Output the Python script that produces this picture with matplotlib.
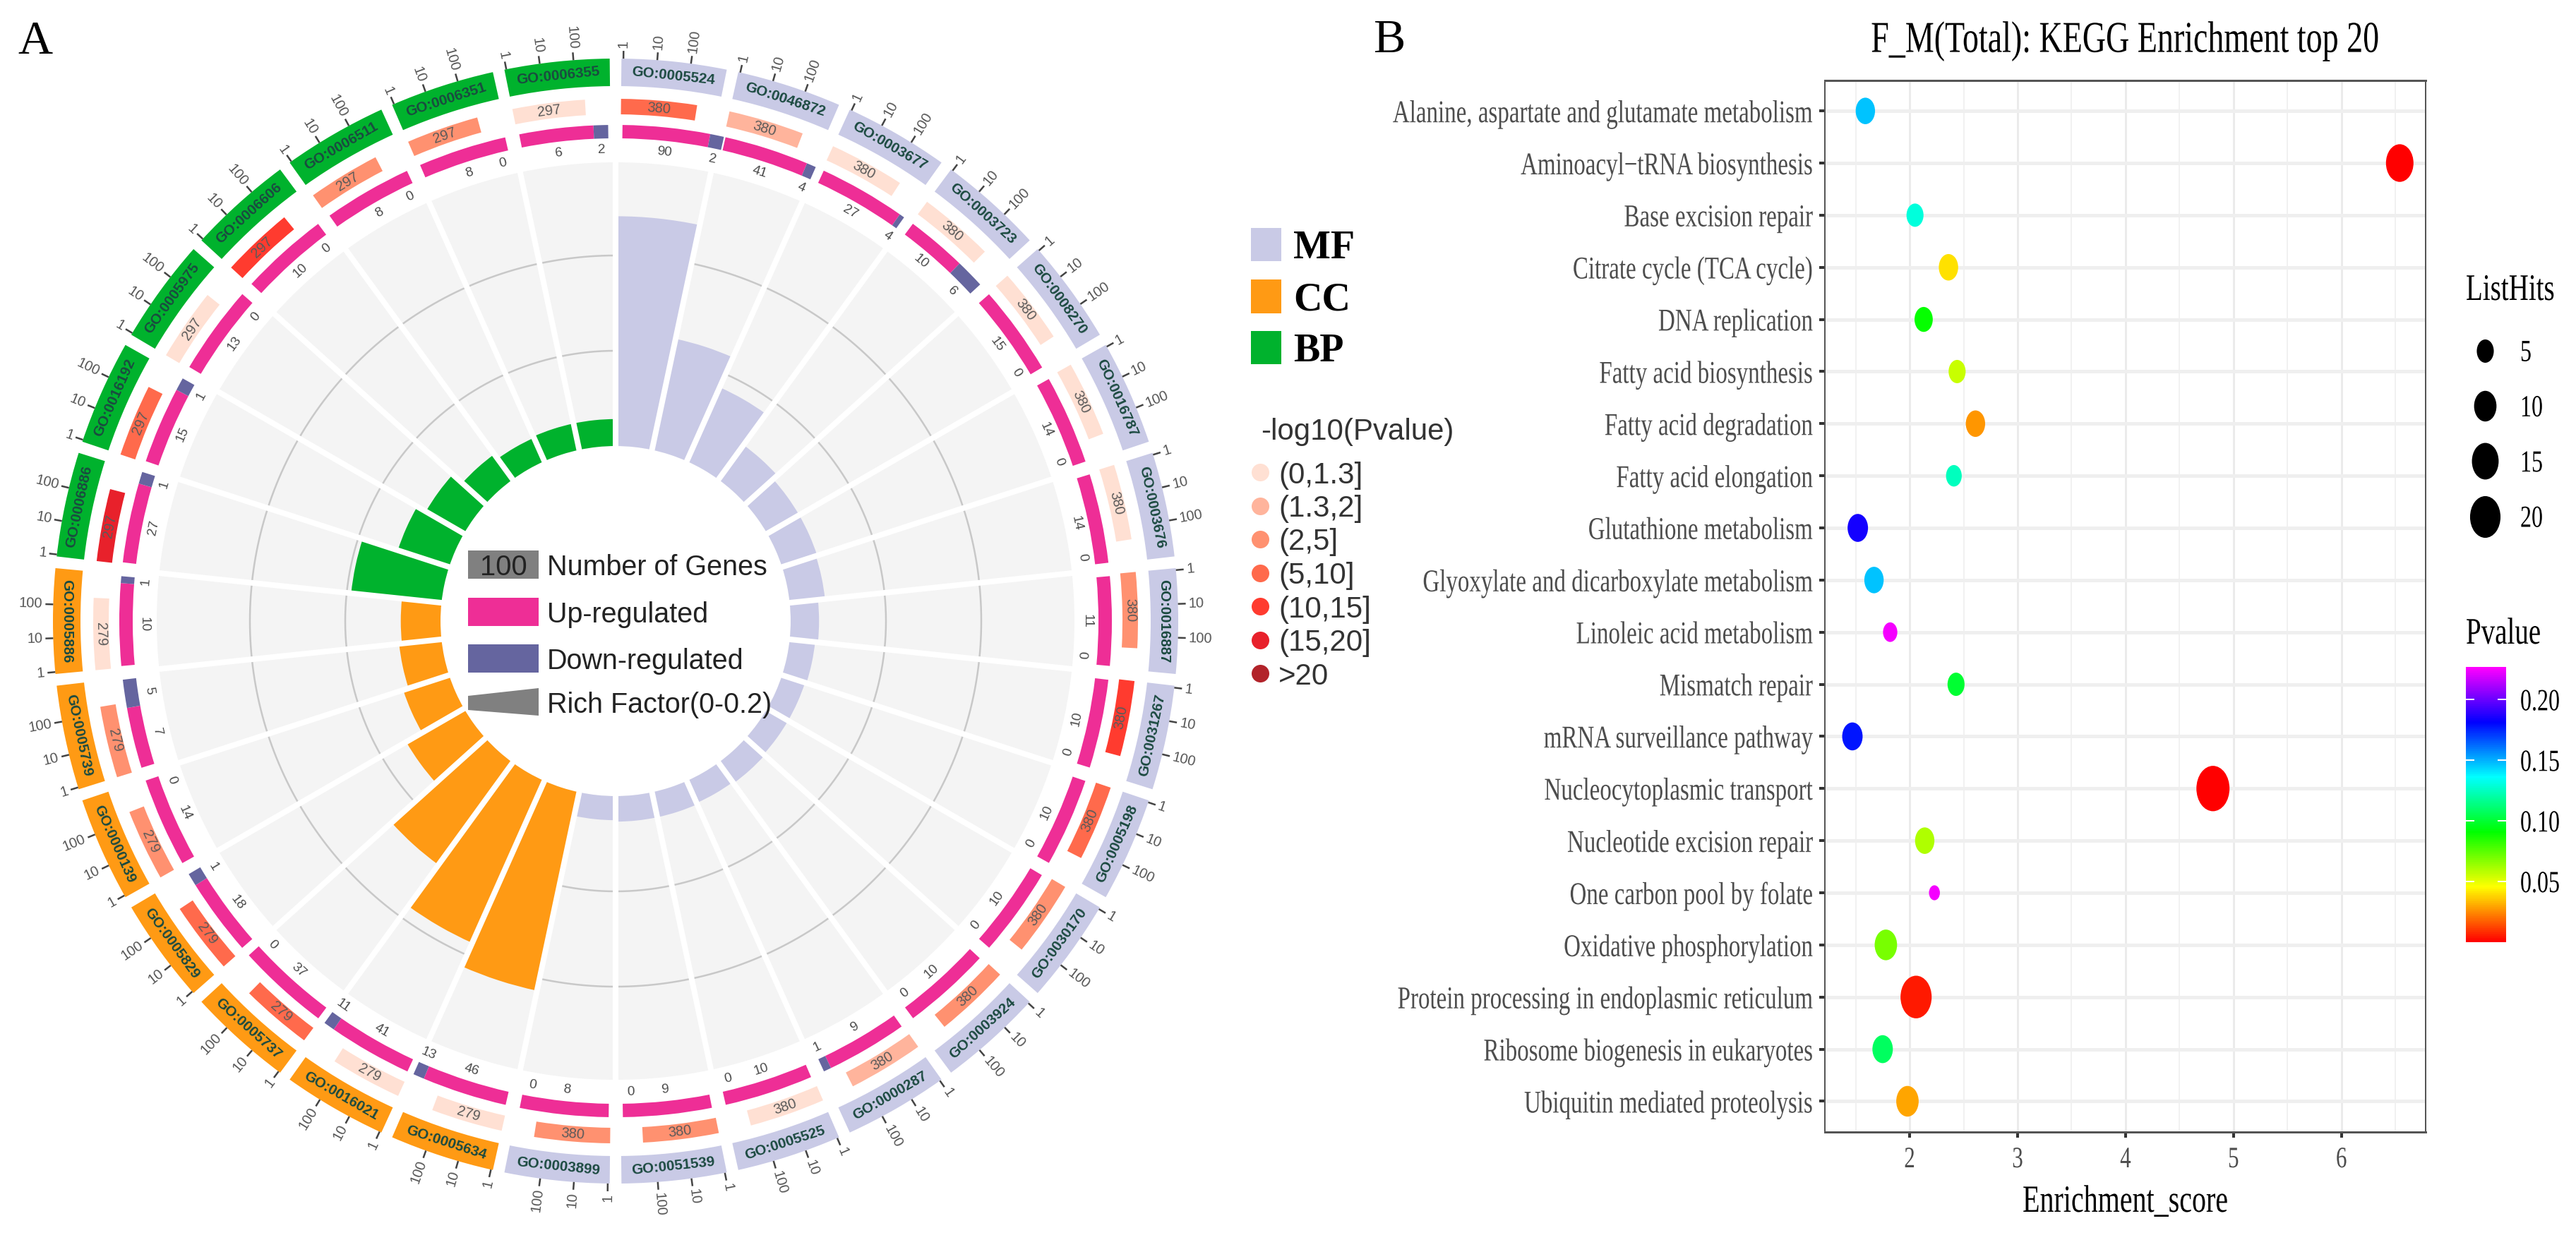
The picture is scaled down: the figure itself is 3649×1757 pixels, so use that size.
import numpy as np
import matplotlib
matplotlib.use("Agg")
import matplotlib.pyplot as plt
from matplotlib.colors import LinearSegmentedColormap, Normalize
from matplotlib.cm import ScalarMappable
from matplotlib.patches import Rectangle, Polygon
from matplotlib.path import Path
from matplotlib.patheffects import AbstractPathEffect
from matplotlib.transforms import Affine2D

# panel A data, clockwise from 12 o'clock
go_terms = ["GO:0005524", "GO:0046872", "GO:0003677", "GO:0003723", "GO:0008270", "GO:0016787",
            "GO:0003676", "GO:0016887", "GO:0031267", "GO:0005198", "GO:0030170", "GO:0003924",
            "GO:0000287", "GO:0005525", "GO:0051539", "GO:0003899",
            "GO:0005634", "GO:0016021", "GO:0005737", "GO:0005829", "GO:0000139", "GO:0005739", "GO:0005886",
            "GO:0006886", "GO:0016192", "GO:0005975", "GO:0006606", "GO:0006511", "GO:0006351", "GO:0006355"]
go_class = ["MF"] * 16 + ["CC"] * 7 + ["BP"] * 7
go_total = [380] * 16 + [279] * 7 + [297] * 7
up_genes = [90, 41, 27, 10, 15, 14, 14, 11, 10, 10, 10, 10, 9, 10, 9, 8,
            46, 41, 37, 18, 14, 7, 10,
            27, 15, 13, 10, 8, 8, 6]
down_genes = [2, 4, 4, 6, 0, 0, 0, 0, 0, 0, 0, 0, 1, 0, 0, 0,
              13, 11, 0, 1, 0, 5, 1,
              1, 1, 0, 0, 0, 0, 2]
down_arc = [1.6, 1.1, 0.6, 3.4, 0, 0, 0, 0, 0, 0, 0, 0, 0.9, 0, 0, 0,
            1.3, 1.3, 0, 1.5, 0, 3.3, 0.8,
            1.4, 1.5, 0, 0, 0, 0, 1.7]
p_bin = [3, 1, 0, 0, 0, 0, 0, 2, 4, 3, 2, 2, 1, 0, 2, 2,
         0, 0, 3, 3, 2, 2, 0,
         5, 3, 0, 4, 2, 2, 0]
rich_factor = [0.162, 0.080, 0.057, 0.030, 0.026, 0.026, 0.025, 0.020, 0.018, 0.017, 0.017, 0.018,
               0.017, 0.018, 0.018, 0.017,
               0.143, 0.125, 0.089, 0.047, 0.034, 0.030, 0.028,
               0.064, 0.038, 0.031, 0.022, 0.018, 0.019, 0.019]
p_labels = ["(0,1.3]", "(1.3,2]", "(2,5]", "(5,10]", "(10,15]", "(15,20]", ">20"]
p_colors = ["#FFE0D3", "#FFB49C", "#FF9170", "#FF6A4C", "#FF3B2F", "#E8212B", "#B2232A"]
class_colors = {"MF": "#C9CAE6", "CC": "#FF9A14", "BP": "#00B22D"}

# panel B data
pathways = ["Alanine, aspartate and glutamate metabolism", "Aminoacyl\u2212tRNA biosynthesis", "Base excision repair",
            "Citrate cycle (TCA cycle)", "DNA replication", "Fatty acid biosynthesis", "Fatty acid degradation",
            "Fatty acid elongation", "Glutathione metabolism", "Glyoxylate and dicarboxylate metabolism",
            "Linoleic acid metabolism", "Mismatch repair", "mRNA surveillance pathway", "Nucleocytoplasmic transport",
            "Nucleotide excision repair", "One carbon pool by folate", "Oxidative phosphorylation",
            "Protein processing in endoplasmic reticulum", "Ribosome biogenesis in eukaryotes",
            "Ubiquitin mediated proteolysis"]
enrichment = [1.59, 6.54, 2.05, 2.36, 2.13, 2.44, 2.61, 2.41, 1.52, 1.67,
              1.82, 2.43, 1.47, 4.81, 2.14, 2.23, 1.78, 2.06, 1.75, 1.98]
pvalue = [0.147, 0.0004, 0.130, 0.040, 0.090, 0.055, 0.027, 0.125, 0.185, 0.147,
          0.225, 0.100, 0.178, 0.0003, 0.060, 0.225, 0.070, 0.005, 0.108, 0.030]
list_hits = [7, 16, 5, 7, 6, 5, 7, 4, 8, 7, 3, 5, 8, 24, 7, 1, 10, 21, 8, 10]
hits_legend = [5, 10, 15, 20]
p_ticks = [0.05, 0.10, 0.15, 0.20]
x_ticks = [2, 3, 4, 5, 6]

W, H = 3649, 1757
SANS = "Liberation Sans"
SERIF = "Liberation Serif"


def fs(em_px):
    # font size / line width given in image pixels
    return em_px * 0.72


class TallText(AbstractPathEffect):
    # the right panel was squeezed sideways in the original figure
    def __init__(self, drop=4, ratio=1.36):
        super().__init__()
        self.ratio = ratio
        self.drop = drop

    def draw_path(self, renderer, gc, tpath, affine, rgbFace=None):
        stretched = Affine2D().scale(1, self.ratio) + affine + Affine2D().translate(0, -self.drop)
        renderer.draw_path(gc, tpath, stretched, rgbFace)


fig = plt.figure(figsize=(W / 100, H / 100), dpi=100, facecolor="white")

# ---------- panel A ----------
cx, cy, rmax = 872, 880, 860
ax = fig.add_axes([(cx - rmax) / W, (H - cy - rmax) / H, 2 * rmax / W, 2 * rmax / H], projection="polar")
ax.set_theta_zero_location("N")
ax.set_theta_direction(-1)
ax.set_axis_off()

R_IN, R_GRID, R_GREY = 248, [383, 518], 650
R_UP = (684, 703)
R_P = (718, 740)
R_GO = (758, 797)
STEP = 12.0
rad = np.deg2rad


def arc(start, span, r0, r1, color, z=2):
    ax.bar(rad(start), r1 - r0, width=rad(span), bottom=r0, align="edge", color=color, linewidth=0, zorder=z)


def tangent(theta):
    theta = theta % 360
    return 180 - theta if 90 < theta <= 270 else -theta


for i, term in enumerate(go_terms):
    s = i * STEP
    col = class_colors[go_class[i]]
    arc(s, STEP, R_IN, R_GREY, "#F4F4F4", 1)
    arc(s, STEP, R_IN, R_IN + rich_factor[i] / 0.2 * (R_GREY - R_IN), col, 3)

    # gene ratio ring
    total = up_genes[i] + down_genes[i]
    span = 10.2 + 0.0175 * total
    up_span = span - down_arc[i]
    arc(s + 0.8, up_span, R_UP[0], R_UP[1], "#EE2E96")
    if down_genes[i] > 0:
        arc(s + 0.8 + up_span, down_arc[i], R_UP[0], R_UP[1], "#65659F")
        t_down = s + 0.8 + up_span + down_arc[i] / 2
    else:
        t_down = s + span - 0.2
    t_up = s + 0.8 + up_span / 2
    for t, val in ((t_up, up_genes[i]), (t_down, down_genes[i])):
        ax.text(rad(t), 668, str(val), rotation=tangent(t), rotation_mode="anchor", ha="center", va="center",
                fontsize=fs(19), family=SANS, color="#4A4A4A", zorder=6)

    # p value ring
    p_span = np.log10(go_total[i]) * 3.25
    arc(s + 0.6, p_span, R_P[0], R_P[1], p_colors[p_bin[i]])
    t_p = s + 0.6 + p_span / 2
    ax.text(rad(t_p), 729, str(go_total[i]), rotation=tangent(t_p), rotation_mode="anchor", ha="center", va="center",
            fontsize=fs(20), family=SANS, color="#5A5A5A", zorder=6)

    # GO term ring
    arc(s + 0.6, STEP - 1.2, R_GO[0], R_GO[1], col)
    t_go = s + STEP / 2
    ax.text(rad(t_go), 777, term, rotation=tangent(t_go), rotation_mode="anchor", ha="center", va="center",
            fontsize=fs(20.5), family=SANS, fontweight="bold", color="#1B4A40", zorder=6)

    # log axis on the outside
    for k, lab in enumerate(["1", "10", "100"]):
        t = s + 0.8 + k * 3.45
        ax.plot([rad(t), rad(t)], [797, 808], color="#444444", lw=fs(2.5), solid_capstyle="butt", zorder=4)
        if t % 360 < 180:
            rot, ha = 90 - t, "left"
        else:
            rot, ha = 270 - t, "right"
        ax.text(rad(t), 812, lab, rotation=rot, rotation_mode="anchor", ha=ha, va="center",
                fontsize=fs(20), family=SANS, color="#555555", zorder=6)

th = np.linspace(0, 2 * np.pi, 721)
for r in R_GRID:
    ax.plot(th, np.full_like(th, r), color="#C8C8C8", lw=fs(2.5), zorder=2)
for i in range(len(go_terms)):
    t = rad(i * STEP)
    ax.plot([t, t], [R_IN - 2, R_GREY + 3], color="white", lw=fs(8), solid_capstyle="butt", zorder=5)
ax.set_ylim(0, rmax)

# ---------- panel B ----------
pl, pr, pt, pb = 2585, 3436, 113.6, 1604
ax2 = fig.add_axes([pl / W, (H - pb) / H, (pr - pl) / W, (pb - pt) / H])
ypos = np.arange(1, len(pathways) + 1)
ax2.set_xlim(1.215, 6.78)
ax2.set_ylim(20.59, 0.41)
ax2.set_axisbelow(True)
ax2.set_xticks(x_ticks)
ax2.set_xticks([1.5, 2.5, 3.5, 4.5, 5.5, 6.5], minor=True)
ax2.set_yticks(ypos)
ax2.set_yticklabels(pathways)
ax2.grid(True, axis="x", which="major", color="#EBEBEB", lw=fs(3))
ax2.grid(True, axis="x", which="minor", color="#F1F1F1", lw=fs(2))
ax2.grid(True, axis="y", which="major", color="#EFEFEF", lw=fs(5))
ax2.tick_params(axis="both", which="major", length=fs(8), width=fs(4), color="#333333", labelcolor="#4D4D4D")
ax2.tick_params(axis="x", which="minor", length=0)
ax2.tick_params(axis="y", pad=fs(9))
ax2.tick_params(axis="x", pad=fs(12))
for lab in ax2.get_yticklabels():
    lab.set_family(SERIF)
    lab.set_fontsize(fs(33))
    lab.set_path_effects([TallText(drop=4)])
for lab in ax2.get_xticklabels():
    lab.set_family(SERIF)
    lab.set_fontsize(fs(31))
    lab.set_path_effects([TallText(drop=8)])
for name, sp in ax2.spines.items():
    sp.set_color("#555555")
    sp.set_linewidth(fs(3) if name in ("top", "bottom") else fs(2))

p_cmap = LinearSegmentedColormap.from_list("p", ["#FF0000", "#FFFF00", "#00FF00", "#00FFFF", "#0000FF", "#FF00FF"])
p_norm = Normalize(0.0, 0.227)
oval = Path.unit_circle().transformed(Affine2D().scale(0.73, 1))


def hit_area(hits):
    # dot height in pixels grows with the root of the hit count
    return fs(np.sqrt(290 + 160 * np.asarray(hits, dtype=float))) ** 2


ax2.scatter(enrichment, ypos, s=hit_area(list_hits), c=pvalue, cmap=p_cmap, norm=p_norm, marker=oval,
            linewidths=0, zorder=3, clip_on=False)

# ---------- overlay in image pixels: legends and letters ----------
ov = fig.add_axes([0, 0, 1, 1], zorder=10)
ov.set_xlim(0, W)
ov.set_ylim(H, 0)
ov.set_axis_off()
ov.patch.set_alpha(0)

ov.text(25, 76, "A", family=SERIF, fontsize=fs(68), color="black", va="baseline")
ov.text(1945, 74, "B", family=SERIF, fontsize=fs(68), color="black", va="baseline")

# middle of the circle
swatches = [(780, "#808080", "Number of Genes"), (847, "#EE2E96", "Up-regulated"), (913, "#65659F", "Down-regulated")]
for y0, col, txt in swatches:
    ov.add_patch(Rectangle((663, y0), 100, 40, color=col, linewidth=0))
    ov.text(775, y0 + 20, txt, family=SANS, fontsize=fs(39.5), color="#222222", va="center_baseline")
ov.text(713, 800, "100", family=SANS, fontsize=fs(40), color="#222222", ha="center", va="center_baseline")
ov.add_patch(Polygon([(663, 986), (763, 975), (763, 1014), (663, 1006)], closed=True, color="#808080", linewidth=0))
ov.text(775, 995, "Rich Factor(0-0.2)", family=SANS, fontsize=fs(39.5), color="#222222", va="center_baseline")

# GO classes
for y0, y1, name in [(323, 370, "MF"), (396, 444, "CC"), (469, 516, "BP")]:
    ov.add_patch(Rectangle((1772, y0), 43, y1 - y0, color=class_colors[name], linewidth=0))
    ov.text(1832, (y0 + y1) / 2, name, family=SERIF, fontweight="bold", fontsize=fs(56), color="black",
            va="center_baseline")

# p value bins
ov.text(1786, 607, "-log10(Pvalue)", family=SANS, fontsize=fs(42), color="#333333", va="center_baseline")
for k, (lab, col) in enumerate(zip(p_labels, p_colors)):
    y = 669 + k * 47.5
    ov.scatter([1785], [y], s=fs(25) ** 2, color=col, linewidths=0)
    ov.text(1811, y, lab, family=SANS, fontsize=fs(42), color="#333333", va="center_baseline")

# list hits legend
ov.text(3493, 408, "ListHits", family=SERIF, fontsize=fs(39), color="black", va="center_baseline",
        path_effects=[TallText(drop=3)])
for k, h in enumerate(hits_legend):
    y = 496.6 + k * 78.3
    ov.scatter([3520], [y], s=hit_area(h), color="black", marker=oval, linewidths=0)
    ov.text(3570, y, str(h), family=SERIF, fontsize=fs(32), color="black", va="center_baseline",
            path_effects=[TallText(drop=4)])

ov.text(3493, 895, "Pvalue", family=SERIF, fontsize=fs(39), color="black", va="center_baseline",
        path_effects=[TallText(drop=3)])

ax2.set_title("F_M(Total): KEGG Enrichment top 20", family=SERIF, fontsize=fs(46), color="black", pad=fs(44),
              path_effects=[TallText(drop=4)])
ax2.set_xlabel("Enrichment_score", family=SERIF, fontsize=fs(40), color="black", labelpad=fs(20),
               path_effects=[TallText(drop=16)])

# colour bar
cax = fig.add_axes([3493 / W, (H - 1335) / H, 57 / W, 390 / H])
cb = fig.colorbar(ScalarMappable(norm=p_norm, cmap=p_cmap), cax=cax, ticks=p_ticks)
cb.outline.set_visible(False)
cb.ax.tick_params(length=0, pad=fs(20))
cb.ax.set_yticklabels(["%.2f" % v for v in p_ticks])
for lab in cb.ax.get_yticklabels():
    lab.set_family(SERIF)
    lab.set_fontsize(fs(32))
    lab.set_path_effects([TallText(drop=4)])
for v in p_ticks:
    cb.ax.plot([0, 0.2], [v, v], color="white", lw=fs(2), transform=cb.ax.get_yaxis_transform())
    cb.ax.plot([0.8, 1], [v, v], color="white", lw=fs(2), transform=cb.ax.get_yaxis_transform())

fig.savefig("out.png", dpi=100)
